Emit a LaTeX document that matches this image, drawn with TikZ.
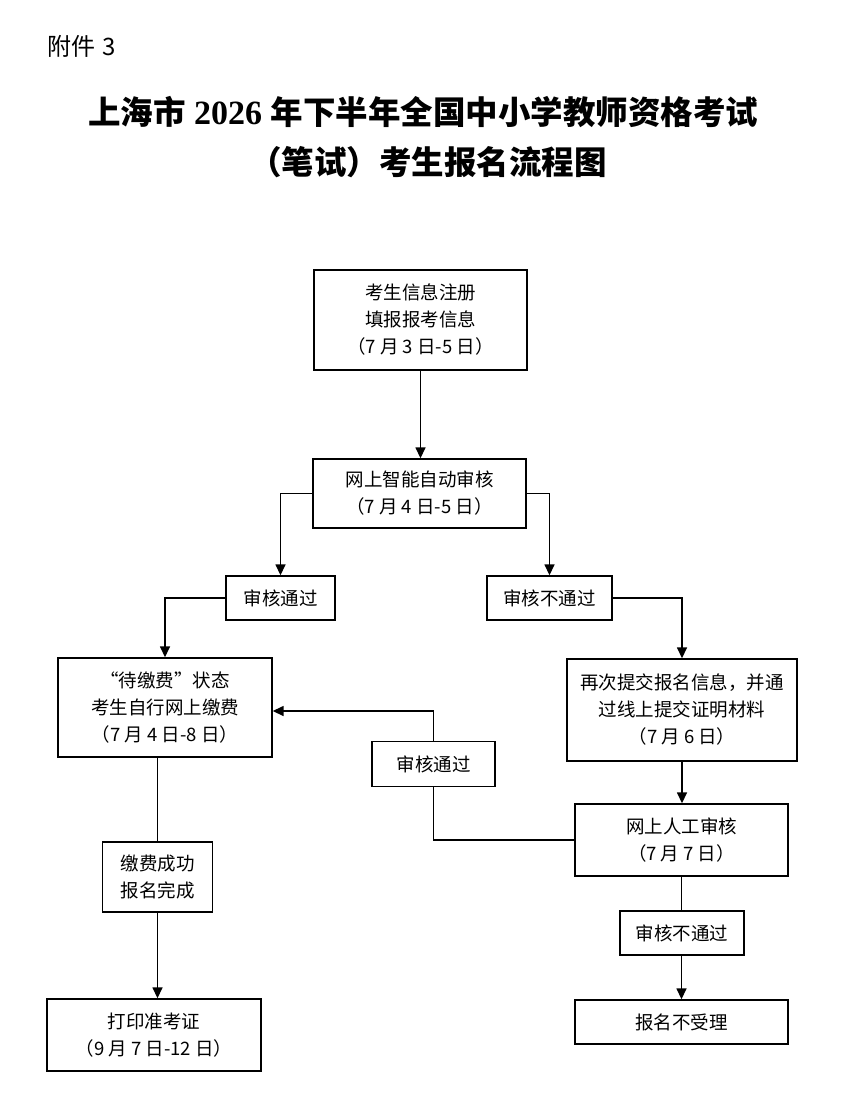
\documentclass[tikz,border=0pt]{standalone}
\usepackage{fontspec}
\setmainfont{Noto Sans CJK SC}
\newfontfamily\libserif{Liberation Serif}
\usetikzlibrary{arrows.meta}
\tikzset{
  box/.style={draw, line width=1.4pt, align=center, inner sep=0pt,
    font=\fontsize{18.5}{27}\selectfont},
  arr/.style={-{Triangle[width=10pt,length=11pt]}},
  conn/.style={line width=1.5pt}
}
\begin{document}
\begin{tikzpicture}[x=1pt,y=-1pt]
\useasboundingbox (0,0) rectangle (845,1103);
% header
\node[anchor=west, font=\fontsize{24}{24}\selectfont] (att) at (44,46) {附件\hspace{7pt}3};
\node[font=\fontsize{32.5}{32.5}\selectfont\bfseries] (t1) at (423,112) {上海市{\libserif\bfseries\fontsize{34}{34}\selectfont\ 2026 }年下半年全国中小学教师资格考试};
\node[font=\fontsize{32.5}{32.5}\selectfont\bfseries] (t2) at (428,162) {（笔试）考生报名流程图};
% nodes
\node[box, minimum width=213pt, minimum height=100pt] (reg) at (420.5,320) {考生信息注册\\填报报考信息\\（7 月 3 日-5 日）};
\node[box, minimum width=213pt, minimum height=69pt] (auto) at (419.5,493.5) {网上智能自动审核\\（7 月 4 日-5 日）};
\node[box, minimum width=109pt, minimum height=44pt] (pass1) at (280.5,598) {审核通过};
\node[box, minimum width=125pt, minimum height=44pt] (fail1) at (549.5,598) {审核不通过};
\node[box, minimum width=214pt, minimum height=99pt] (pay) at (165,707.5) {“待缴费”状态\\考生自行网上缴费\\（7 月 4 日-8 日）};
\node[box, minimum width=230pt, minimum height=102pt] (resub) at (682,710) {再次提交报名信息，并通\\过线上提交证明材料\\（7 月 6 日）};
\node[box, minimum width=123pt, minimum height=45pt] (pass2) at (433.5,764) {审核通过};
\node[box, minimum width=213pt, minimum height=72pt] (manual) at (681.5,840) {网上人工审核\\（7 月 7 日）};
\node[box, minimum width=124pt, minimum height=44pt] (fail2) at (682,933) {审核不通过};
\node[box, minimum width=213pt, minimum height=44pt] (reject) at (681.5,1022) {报名不受理};
\node[box, minimum width=110pt, minimum height=70pt] (done) at (157.5,877) {缴费成功\\报名完成};
\node[box, minimum width=214pt, minimum height=72pt] (print) at (154,1035) {打印准考证\\（9 月 7 日-12 日）};
% connectors
\coordinate (back) at (433.5,711);
\draw[conn, arr] (reg.south) -- (reg.south |- auto.north);
\draw[conn, arr] (auto.west) -| (pass1.north);
\draw[conn, arr] (auto.east) -| (fail1.north);
\draw[conn, arr] (pass1.west) -| (pay.north);
\draw[conn, arr] (fail1.east) -| (resub.north);
\draw[conn, arr] (resub.south) -- (resub.south |- manual.north);
\draw[conn] (manual.west) -| (pass2.south);
\draw[conn, arr] (pass2.north) -- (back) -- (back -| pay.east);
\draw[conn] (manual.south) -- (manual.south |- fail2.north);
\draw[conn, arr] (fail2.south -| manual.south) -- (reject.north);
\draw[conn] (pay.south -| done.north) -- (done.north);
\draw[conn, arr] (done.south) -- (done.south |- print.north);
\end{tikzpicture}
\end{document}
